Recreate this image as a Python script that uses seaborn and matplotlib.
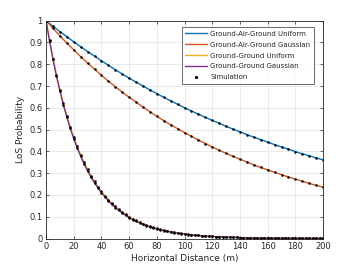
import numpy as np
import pandas as pd
import matplotlib
matplotlib.use("Agg")
import matplotlib.pyplot as plt
import seaborn as sns

# distances (m)
d_air = np.arange(0, 201, 5)
d_gg = np.arange(0, 200.1, 2.5)

gag_uniform = [1.000, 0.975, 0.950, 0.926, 0.903, 0.880, 0.858, 0.837, 0.816, 0.795,
               0.775, 0.755, 0.736, 0.718, 0.700, 0.682, 0.665, 0.648, 0.632, 0.616,
               0.600, 0.585, 0.571, 0.556, 0.542, 0.529, 0.515, 0.502, 0.490, 0.477,
               0.465, 0.454, 0.442, 0.431, 0.420, 0.410, 0.399, 0.389, 0.380, 0.370,
               0.361]
gag_gauss = [1.000, 0.965, 0.930, 0.897, 0.866, 0.835, 0.805, 0.777, 0.749, 0.722,
             0.697, 0.672, 0.648, 0.626, 0.603, 0.582, 0.561, 0.541, 0.522, 0.504,
             0.486, 0.469, 0.452, 0.436, 0.420, 0.405, 0.391, 0.377, 0.364, 0.351,
             0.338, 0.326, 0.315, 0.304, 0.293, 0.282, 0.273, 0.263, 0.253, 0.244,
             0.236]
gg_uniform = [1.000, 0.909, 0.826, 0.751, 0.682, 0.620, 0.563, 0.512, 0.465, 0.423,
              0.384, 0.349, 0.317, 0.288, 0.262, 0.238, 0.216, 0.197, 0.179, 0.162,
              0.147, 0.134, 0.122, 0.111, 0.100, 0.091, 0.083, 0.075, 0.068, 0.062,
              0.056, 0.051, 0.047, 0.042, 0.038, 0.035, 0.032, 0.029, 0.026, 0.024,
              0.022, 0.020, 0.018, 0.016, 0.015, 0.013, 0.012, 0.011, 0.010, 0.009,
              0.008, 0.0075, 0.0068, 0.0062, 0.0056, 0.0051, 0.0046, 0.0042, 0.0038, 0.0035,
              0.0032, 0.0029, 0.0026, 0.0024, 0.0022, 0.0020, 0.0018, 0.0016, 0.0015, 0.0013,
              0.0012, 0.0011, 0.0010, 0.0009, 0.0008, 0.0008, 0.0007, 0.0006, 0.0006, 0.0005,
              0.0005]
gg_gauss = [1.000, 0.907, 0.823, 0.746, 0.677, 0.614, 0.557, 0.505, 0.458, 0.416,
            0.377, 0.342, 0.310, 0.282, 0.255, 0.232, 0.210, 0.191, 0.173, 0.157,
            0.142, 0.129, 0.117, 0.106, 0.096, 0.087, 0.079, 0.072, 0.065, 0.059,
            0.054, 0.049, 0.044, 0.040, 0.036, 0.033, 0.030, 0.027, 0.025, 0.022,
            0.020, 0.018, 0.017, 0.015, 0.014, 0.012, 0.011, 0.010, 0.0093, 0.0084,
            0.0076, 0.0069, 0.0063, 0.0057, 0.0052, 0.0047, 0.0043, 0.0038, 0.0035, 0.0032,
            0.0029, 0.0026, 0.0024, 0.0021, 0.0019, 0.0018, 0.0016, 0.0015, 0.0013, 0.0012,
            0.0011, 0.0010, 0.0009, 0.0008, 0.0007, 0.0007, 0.0006, 0.0005, 0.0005, 0.0005,
            0.0004]

labels = ["Ground-Air-Ground Uniform", "Ground-Air-Ground Gaussian",
          "Ground-Ground Uniform", "Ground-Ground Gaussian"]
colors = ["#0072BD", "#D95319", "#EDB120", "#7E2F8E"]

sns.set_theme(style="ticks")
plt.rcParams["font.family"] = ["DejaVu Sans"]

fig = plt.figure(figsize=(3.57, 2.68), dpi=100)
ax = fig.add_axes([0.129, 0.11, 0.776, 0.813])

series = [(d_air, gag_uniform), (d_air, gag_gauss), (d_gg, gg_uniform), (d_gg, gg_gauss)]
for (x, y), lab, c in zip(series, labels, colors):
    sns.lineplot(x=x, y=y, ax=ax, color=c, lw=1.0, label=lab)

first = True
for x, y in series:
    ax.plot(x, y, ls="none", marker=".", ms=1.6, color="black",
            label="Simulation" if first else None)
    first = False

ax.set_xlim(0, 200)
ax.set_ylim(0, 1)
ax.set_xticks(np.arange(0, 201, 20))
ax.set_yticks(np.arange(0, 1.01, 0.1))
ax.set_yticklabels(["0", "0.1", "0.2", "0.3", "0.4", "0.5", "0.6", "0.7", "0.8", "0.9", "1"])
ax.grid(True, color="#e6e6e6", lw=0.6)
ax.set_axisbelow(True)
ax.tick_params(direction="in", length=2.5, width=0.5, labelsize=6, colors="#262626",
               top=True, right=True, pad=2.5)
for s in ax.spines.values():
    s.set_linewidth(0.6)
    s.set_color("#262626")
ax.set_xlabel("Horizontal Distance (m)", fontsize=6.5, color="#262626", labelpad=2)
ax.set_ylabel("LoS Probability", fontsize=6.5, color="#262626", labelpad=3)

leg = ax.legend(loc="upper right", fontsize=5.0, frameon=True, fancybox=False,
                edgecolor="#262626", handlelength=3.2, borderpad=0.5, labelspacing=0.7,
                handletextpad=0.45, bbox_to_anchor=(0.98, 0.985), markerscale=1.6)
leg.get_frame().set_linewidth(0.6)

fig.savefig("out.png", dpi=100)
